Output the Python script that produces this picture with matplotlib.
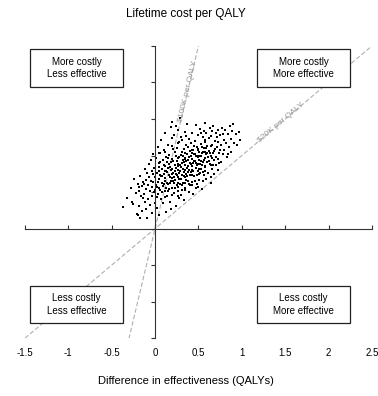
import matplotlib
matplotlib.use("Agg")
import matplotlib.pyplot as plt
from matplotlib.patches import Rectangle
import numpy as np

plt.rcParams['font.family'] = ['Liberation Sans', 'DejaVu Sans']

# bootstrap replicates: incremental QALYs and cost ($)
qaly_diff = [
    -0.37, -0.32, -0.28, -0.25, -0.24, -0.22, -0.21, -0.20, -0.17, -0.20, -0.14, -0.27,
    -0.19, -0.18, -0.17, -0.16, -0.15, -0.15, -0.14, -0.13, -0.12, -0.12, -0.11, -0.10,
    -0.10, -0.09, -0.08, -0.08, -0.07, -0.07, -0.06, -0.06, -0.05, -0.05, -0.04, -0.04,
    -0.03, -0.03, -0.02, -0.02, -0.01, -0.01, 0.00, 0.00, -0.09, -0.13, -0.18,
    0.01, 0.01, 0.02, 0.02, 0.03, 0.03, 0.04, 0.04, 0.05, 0.05, 0.06, 0.06, 0.07, 0.07,
    0.08, 0.08, 0.09, 0.09, 0.10, 0.10, 0.11, 0.11, 0.12, 0.12, 0.13, 0.13, 0.14, 0.14,
    0.15, 0.15, 0.16, 0.16, 0.17, 0.17, 0.18, 0.18, 0.19, 0.19, 0.20, 0.20, 0.05, 0.08,
    0.12, 0.14, 0.16, 0.18, 0.19, 0.03, 0.10, 0.07, 0.13, 0.15, 0.17, 0.20, 0.11, 0.09,
    0.06, 0.04, 0.02, 0.18,
    0.21, 0.21, 0.22, 0.22, 0.23, 0.23, 0.24, 0.24, 0.25, 0.25, 0.26, 0.26, 0.27, 0.27,
    0.28, 0.28, 0.29, 0.29, 0.30, 0.30, 0.31, 0.31, 0.32, 0.32, 0.33, 0.33, 0.34, 0.34,
    0.35, 0.35, 0.36, 0.36, 0.37, 0.37, 0.38, 0.38, 0.39, 0.39, 0.40, 0.40, 0.21, 0.23,
    0.25, 0.26, 0.28, 0.29, 0.30, 0.31, 0.33, 0.34, 0.35, 0.36, 0.37, 0.38, 0.39, 0.24,
    0.27, 0.32, 0.22, 0.28, 0.33, 0.36, 0.30, 0.26, 0.38, 0.24, 0.31, 0.35, 0.40, 0.27,
    0.41, 0.41, 0.42, 0.42, 0.43, 0.43, 0.44, 0.44, 0.45, 0.45, 0.46, 0.46, 0.47, 0.47,
    0.48, 0.48, 0.49, 0.49, 0.50, 0.50, 0.51, 0.51, 0.52, 0.52, 0.53, 0.53, 0.54, 0.54,
    0.55, 0.55, 0.56, 0.56, 0.57, 0.57, 0.58, 0.58, 0.59, 0.59, 0.60, 0.60, 0.42, 0.44,
    0.46, 0.48, 0.50, 0.52, 0.54, 0.56, 0.58, 0.45, 0.47, 0.49, 0.51, 0.53, 0.55, 0.57,
    0.43, 0.59, 0.41, 0.53,
    0.61, 0.61, 0.62, 0.62, 0.63, 0.63, 0.64, 0.64, 0.65, 0.65, 0.66, 0.66, 0.67, 0.67,
    0.68, 0.68, 0.69, 0.69, 0.70, 0.70, 0.71, 0.72, 0.72, 0.73, 0.73, 0.74, 0.75, 0.76,
    0.76, 0.77, 0.78, 0.79, 0.80, 0.63, 0.65, 0.67, 0.71, 0.74, 0.78, 0.66,
    0.81, 0.82, 0.83, 0.84, 0.85, 0.86, 0.87, 0.88, 0.89, 0.91, 0.93, 0.95, 0.97, 0.98,
    0.84, 0.90,
    # dense core
    0.12, 0.14, 0.16, 0.18, 0.20, 0.22, 0.24, 0.26, 0.28, 0.30, 0.32, 0.34, 0.36, 0.38,
    0.40, 0.42, 0.44, 0.46, 0.48, 0.50, 0.52, 0.54, 0.56, 0.58, 0.60,
    0.13, 0.15, 0.17, 0.19, 0.21, 0.23, 0.25, 0.27, 0.29, 0.31, 0.33, 0.35, 0.37, 0.39,
    0.41, 0.43, 0.45, 0.47, 0.49, 0.51, 0.53, 0.55, 0.57, 0.59, 0.62,
    0.10, 0.08, 0.06, 0.04, 0.02, 0.00, -0.02, 0.11, 0.15, 0.19, 0.23, 0.27, 0.31, 0.35,
    0.39, 0.43, 0.47, 0.51, 0.55, 0.64, 0.68, 0.70, 0.72, 0.75, 0.66,
]
cost_diff = [
    6000, 8500, 11200, 6800, 13500, 9800, 3900, 12100, 3000, 3800, 8500, 7400,
    10400, 6200, 14300, 8900, 11700, 4700, 12800, 9600, 16200, 7300, 13400, 10800,
    5300, 15100, 12000, 8200, 17600, 14000, 10300, 6500, 13100, 18900, 11500, 8800,
    15700, 4200, 12700, 20300, 9900, 16600, 14200, 7100, 2900, 12100, 11300,
    11800, 19200, 5600, 15300, 22400, 9400, 13600, 17900, 3800, 11100, 20800, 14700, 8100, 24300,
    16400, 12400, 18700, 6900, 14900, 21500, 10200, 26100, 17200, 13000, 4600, 19600, 15500, 9000,
    23000, 12200, 17700, 20100, 7400, 14100, 27800, 16000, 11000, 19000, 22600, 13800, 16800, 9900,
    21100, 18300, 10900, 12900, 24800, 12800, 17400, 14400, 15900, 19400, 16900, 29300, 13900, 11600,
    18100, 20600, 8600, 5400,
    15200, 18400, 9700, 25700, 13300, 20900, 16700, 6300, 22100, 14600, 19300, 11400, 27000, 17100,
    13600, 23600, 30400, 15800, 20200, 9200, 18000, 24200, 12600, 16300, 21700, 14400, 26500, 19000,
    10600, 17500, 22900, 15000, 20500, 28600, 13100, 18800, 24500, 16100, 21200, 11900, 21800, 17400,
    12000, 16000, 19700, 12300, 25100, 14800, 18200, 11200, 20800, 18500, 16600, 22200, 19600, 19900,
    14200, 20000, 14000, 8400, 7900, 25300, 16900, 23300, 15400, 28100, 21000, 14000, 17900, 10300,
    15600, 23400, 19100, 12800, 26300, 17000, 21500, 9500, 18600, 14300, 24000, 20300, 16500, 28300,
    12200, 22400, 19500, 15900, 25600, 17700, 21100, 13400, 27300, 19800, 16200, 23100, 10900, 20700,
    18100, 25000, 14700, 22000, 19300, 29000, 16800, 24300, 20400, 13700, 22700, 18300, 16000, 18000,
    13100, 17400, 21900, 15300, 17500, 26800, 20900, 22700, 20000, 11300, 18900, 20000, 15400, 23700,
    20600, 26100, 19900, 26200,
    19500, 15100, 24700, 21300, 17600, 27500, 12500, 22600, 19800, 25400, 16400, 23000, 20600, 28100,
    14900, 18700, 24100, 21800, 17300, 26200, 22300, 19000, 27100, 16000, 23800, 20800, 25700, 18200,
    22900, 27600, 20300, 24300, 21600, 20700, 14200, 17400, 25200, 18000, 26000, 26600,
    27100, 23500, 19600, 25800, 22200, 28000, 24600, 21000, 26700, 23300, 25900, 22800, 26400, 24300,
    20500, 28600,
    15800, 12600, 14800, 18200, 16400, 12400, 14900, 17800, 15300, 13700, 18700, 16100, 13400, 17200,
    14800, 21400, 15900, 18400, 14700, 19900, 17600, 22400, 18900, 15800, 20600,
    11200, 16600, 12400, 14900, 12900, 15800, 18600, 12500, 17400, 11800, 15600, 19200, 14300, 12100,
    17600, 14600, 20300, 17900, 21600, 16300, 18600, 21000, 17100, 22100, 18400,
    12300, 14300, 10700, 15900, 11300, 10600, 14900, 8600, 10400, 9300, 11100, 8900, 10500, 12600,
    9900, 12000, 11200, 15000, 13100, 17300, 21300, 19600, 23600, 21400, 19400,
]

x_ticks = [-1.5, -1, -0.5, 0, 0.5, 1, 1.5, 2, 2.5]
x_tick_labels = ["-1.5", "-1", "-0.5", "0", "0.5", "1", "1.5", "2", "2.5"]
y_ticks = [-30000, -20000, -10000, 10000, 20000, 30000, 40000, 50000]

wtp_values = [100000, 20000]
wtp_labels = ["$100K per QALY", "$20K per QALY"]
wtp_label_x = [0.375, 1.45]

quadrant_labels = ["More costly\nLess effective", "More costly\nMore effective",
                   "Less costly\nLess effective", "Less costly\nMore effective"]

fig = plt.figure(figsize=(3.78, 3.96), dpi=100)
ax = fig.add_axes([0.066, 0.146, 0.918, 0.738])
ax.set_xlim(-1.5, 2.5)
ax.set_ylim(-30000, 50000)

# willingness-to-pay lines through the origin
xs = np.array([-1.5, 2.5])
for wtp in wtp_values:
    ax.plot(xs, xs * wtp, color="#b0b0b0", lw=0.8, ls=(0, (4, 2)), zorder=1)

ax.scatter(qaly_diff, cost_diff, s=4.5, c="black", marker="s", linewidths=0, zorder=2)

fig.canvas.draw()
for wtp, lab, lx in zip(wtp_values, wtp_labels, wtp_label_x):
    p0 = ax.transData.transform((0, 0))
    p1 = ax.transData.transform((1, wtp))
    ang = np.degrees(np.arctan2(p1[1] - p0[1], p1[0] - p0[0]))
    ax.text(lx, lx * wtp, lab, rotation=ang, rotation_mode="anchor",
            ha="center", va="center", fontsize=6, color="#999999", zorder=2)

# axes through the origin
for side in ["top", "right"]:
    ax.spines[side].set_visible(False)
ax.spines["left"].set_position(("data", 0))
ax.spines["bottom"].set_position(("data", 0))
ax.spines["left"].set_color("#333333")
ax.spines["bottom"].set_color("#333333")
ax.set_xticks(x_ticks)
ax.set_yticks(y_ticks)
ax.tick_params(axis="x", direction="in", length=3, labelbottom=False, color="#333333")
ax.tick_params(axis="y", direction="out", length=3, labelleft=False, color="#333333")

sec = ax.secondary_xaxis("bottom")
sec.spines["bottom"].set_visible(False)
sec.set_xticks(x_ticks, x_tick_labels)
sec.tick_params(length=0, labelsize=7, pad=7)

# quadrant boxes
box_pos = [(0.0144, 0.860), (0.669, 0.860), (0.0144, 0.051), (0.669, 0.051)]
for (bx, by), lab in zip(box_pos, quadrant_labels):
    ax.add_patch(Rectangle((bx, by), 0.268, 0.128, transform=ax.transAxes,
                           facecolor="white", edgecolor="#222222", lw=0.9,
                           zorder=3, clip_on=False))
    ax.text(bx + 0.134, by + 0.064, lab, transform=ax.transAxes, ha="center",
            va="center", fontsize=7, linespacing=1.3, zorder=4)

fig.text(0.492, 0.965, "Lifetime cost per QALY", ha="center", va="center", fontsize=8.5)
fig.text(0.492, 0.038, "Difference in effectiveness (QALYs)", ha="center",
         va="center", fontsize=8)

fig.savefig("out.png", dpi=100)
